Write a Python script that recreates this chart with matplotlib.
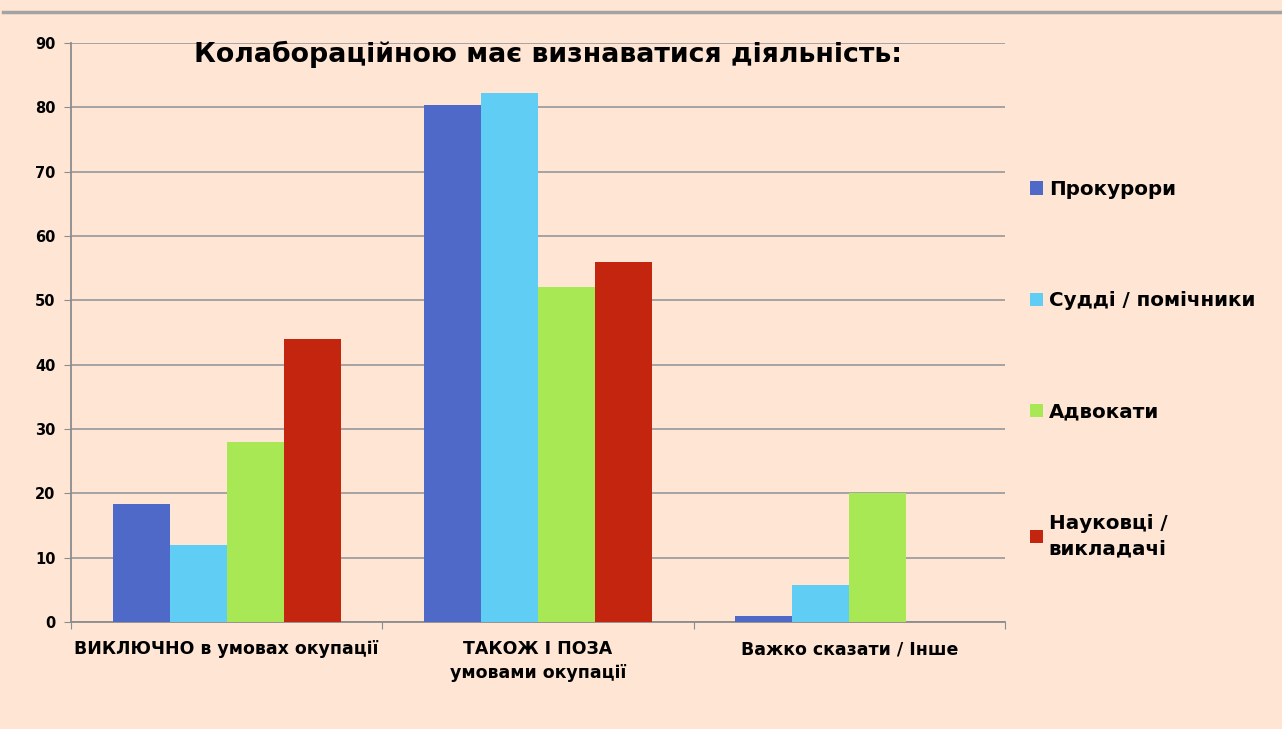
import matplotlib.pyplot as plt
import numpy as np
from matplotlib.lines import Line2D
from matplotlib.patches import Patch

categories = ["ВИКЛЮЧНО в умовах окупації", "ТАКОЖ І ПОЗА\nумовами окупації", "Важко сказати / Інше"]
series_names = ["Прокурори", "Судді / помічники", "Адвокати", "Науковці /\nвикладачі"]
prosecutors = [18.4, 80.4, 1.0]
judges = [12.0, 82.3, 5.8]
lawyers = [28.0, 52.0, 20.0]
scholars = [44.0, 56.0, 0.0]
y_ticks = [0, 10, 20, 30, 40, 50, 60, 70, 80, 90]

colors = ["#4F69C9", "#5FCDF4", "#A8E854", "#C3250E"]
bg = "#FEE5D4"

plt.rcParams["font.family"] = ["DejaVu Sans"]

fig = plt.figure(figsize=(12.82, 7.29), dpi=100, facecolor=bg)
ax = fig.add_axes([71 / 1282, 1 - 622 / 729, (1005 - 71) / 1282, (622 - 43) / 729])
ax.set_facecolor(bg)

# top border line
fig.add_artist(Line2D([3 / 1282, 1], [1 - 12 / 729] * 2, color="#A3A3A3", lw=2.5))

x = np.arange(len(categories))
width = 0.183
all_series = [prosecutors, judges, lawyers, scholars]
for i, vals in enumerate(all_series):
    ax.bar(x + (i - 1.5) * width, vals, width, color=colors[i], zorder=3,
           linewidth=0)

ax.set_xlim(-0.5, 2.5)
ax.set_ylim(0, 90)
ax.set_yticks(y_ticks)
ax.set_yticklabels([str(t) for t in y_ticks], fontsize=10.5, fontweight="bold")
ax.yaxis.grid(True, color="#9E9E9E", lw=1.3, zorder=0)
ax.set_axisbelow(True)

ax.set_xticks([-0.5, 0.5, 1.5, 2.5])
ax.set_xticklabels([])
ax.set_xticks(x, minor=True)
ax.set_xticklabels(categories, minor=True, fontsize=12.5, fontweight="bold",
                   linespacing=1.4)
ax.tick_params(axis="x", which="minor", length=0, pad=13)
ax.tick_params(axis="x", which="major", length=5, color="#8C8C8C")
ax.tick_params(axis="y", length=5, color="#8C8C8C", pad=6)
for s in ["top", "right"]:
    ax.spines[s].set_visible(False)
ax.spines["left"].set_color("#8C8C8C")
ax.spines["bottom"].set_color("#8C8C8C")
ax.spines["left"].set_linewidth(1.3)
ax.spines["bottom"].set_linewidth(1.3)

ax.set_title("Колабораційною має визнаватися діяльність:", fontsize=19.3,
             fontweight="bold", y=0.952, x=0.511)

handles = [Patch(facecolor=c, edgecolor="none") for c in colors]
leg = fig.legend(handles, series_names, loc="upper left", bbox_to_anchor=(1012 / 1282, 1 - 162 / 729),
                 frameon=False, prop={"size": 14.3, "weight": "bold"}, handlelength=0.65,
                 handleheight=0.65, handletextpad=0.3, labelspacing=4.65)
for t in leg.get_texts():
    t.set_linespacing(1.45)

fig.savefig("out.png", dpi=100, facecolor=bg)
